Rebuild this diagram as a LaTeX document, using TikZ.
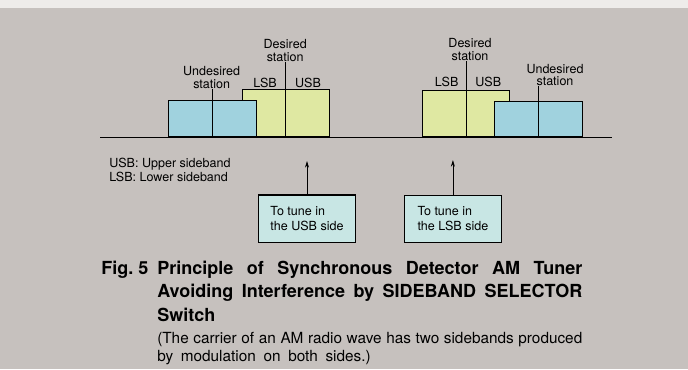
\documentclass[tikz,border=0pt]{standalone}
\usepackage{fontspec}
\setmainfont{TeX Gyre Heros}
\usetikzlibrary{arrows.meta}
\definecolor{paper}{RGB}{198,193,190}
\definecolor{paperedge}{RGB}{238,236,234}
\definecolor{undfill}{RGB}{160,210,222}
\definecolor{desfill}{RGB}{223,232,162}
\definecolor{tunefill}{RGB}{200,230,228}
% band on the axis: name, left, right, top, style
\newcommand{\bandnode}[5]{\node[#5,minimum width={(#3-#2)*0.75pt},minimum height={(137.3-#4)*0.75pt},anchor=south west] (#1) at (#2,137.3) {};}
% tuning box with its arrow up to the axis
\newcommand{\tunenode}[4]{\node[tunebox] (#1) at (#2,#3) {#4};}

\begin{document}
\begin{tikzpicture}[x=0.75pt,y=-0.75pt,
    band/.style={draw,line width=0.75pt,inner sep=0pt},
    undband/.style={band,fill=undfill},
    desband/.style={band,fill=desfill},
    lbl/.style={font=\fontsize{9.4}{9.5}\selectfont,align=center,inner sep=0pt},
    tunebox/.style={draw,line width=0.9pt,fill=tunefill,minimum width=73pt,minimum height=35.6pt,inner sep=0pt,font=\fontsize{9.4}{11.25}\selectfont,align=left},
    captxt/.style={font=\fontsize{13.5}{17.6}\selectfont\bfseries,inner sep=0pt},
    cnote/.style={font=\fontsize{11.5}{13.9}\selectfont,inner sep=0pt}]
  \useasboundingbox (0,0) rectangle (688,369);
  \fill[paper] (0,0) rectangle (688,369);
  \fill[paperedge] (0,0) rectangle (688,8);
  % axis
  \coordinate (axisL) at (100,137.3);
  \coordinate (axisR) at (612,137.3);
  \draw[line width=0.9pt] (axisL) -- (axisR);
  % left pair
  \bandnode{desL}{241.7}{328.7}{90.3}{desband}
  \bandnode{undL}{167.7}{255.7}{101}{undband}
  \node[lbl] (undLlbl) at (211.7,77.5) {Undesired\\station};
  \node[lbl] (desLlbl) at (285.2,50.3) {Desired\\station};
  \node[lbl] (lsbL) at (265,82.7) {LSB};
  \node[lbl] (usbL) at (308,82.7) {USB};
  \draw[line width=0.6pt] (undL.south) -- (undL.south |- undLlbl.south);
  \draw[line width=0.6pt] (desL.south) -- (desL.south |- desLlbl.south);
  % right pair
  \bandnode{desR}{422.3}{509.3}{91}{desband}
  \bandnode{undR}{494.3}{582.3}{102.3}{undband}
  \node[lbl] (desRlbl) at (470,49.7) {Desired\\station};
  \node[lbl] (undRlbl) at (555,75) {Undesired\\station};
  \node[lbl] (lsbR) at (446.7,81.7) {LSB};
  \node[lbl] (usbR) at (488.3,81.7) {USB};
  \draw[line width=0.6pt] (desR.south) -- (desR.south |- desRlbl.south);
  \draw[line width=0.6pt] (undR.south) -- (undR.south |- undRlbl.south);
  % legend
  \node[anchor=west,align=left,inner sep=0pt,font=\fontsize{9.4}{10}\selectfont] (legend) at (109,170) {USB: Upper sideband\\LSB: Lower sideband};
  % tuning boxes
  \tunenode{usbbox}{307}{218.7}{To tune in\\the USB side}
  \tunenode{lsbbox}{452.9}{218.9}{To tune in\\the LSB side}
  \coordinate (usbtip) at (307,161);
  \coordinate (lsbtip) at (452.9,160);
  \draw[-{Stealth[length=5pt,width=3pt]},line width=0.6pt] (usbbox.north) -- (usbtip);
  \draw[-{Stealth[length=5pt,width=3pt]},line width=0.6pt] (lsbbox.north) -- (lsbtip);
  % caption
  \node[captxt,anchor=base west] (fignum) at (101,274.5) {Fig.\ 5};
  \node[captxt,anchor=base west,text width=318.75pt,align=justify] (captitle) at (157,274.5) {Principle of Synchronous Detector AM Tuner\linebreak Avoiding Interference by SIDEBAND SELECTOR\linebreak Switch};
  \node[cnote,anchor=base west,text width=318.75pt,align=justify] (capnote) at (157,343) {(The carrier of an AM radio wave has two sidebands produced\linebreak{\spaceskip=0.5em\relax by modulation on both sides.)}};
\end{tikzpicture}
\end{document}
